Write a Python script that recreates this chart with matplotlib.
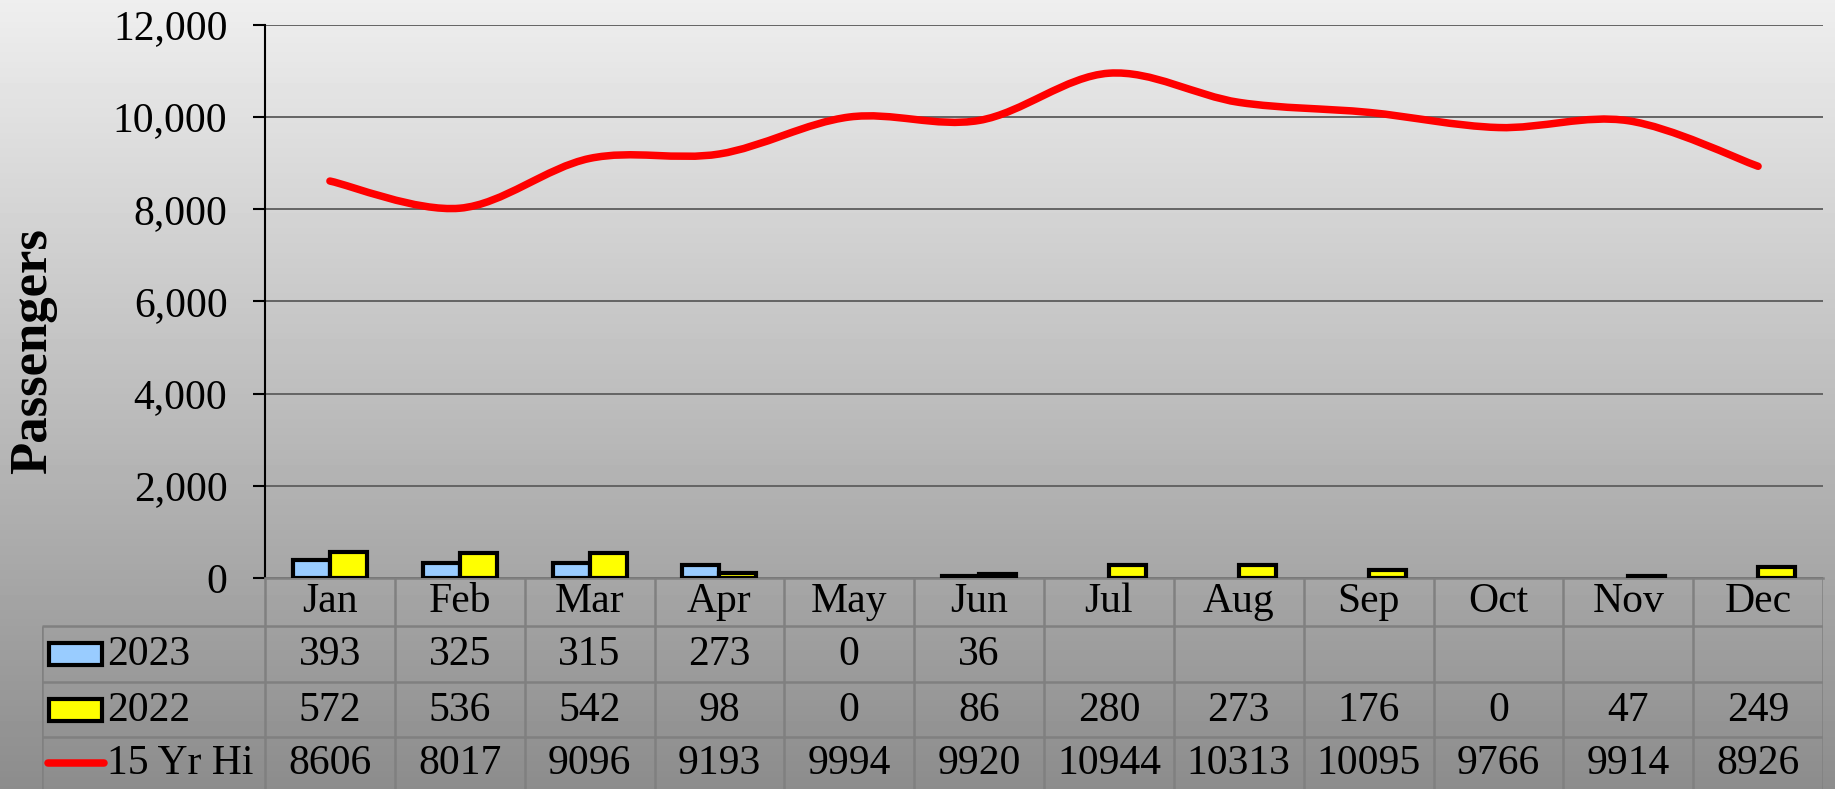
import numpy as np
import matplotlib

matplotlib.use("Agg")
import matplotlib.pyplot as plt
from matplotlib.path import Path
from matplotlib.patches import PathPatch, Rectangle

plt.rcParams["font.family"] = ["Liberation Serif", "DejaVu Serif"]

# ---- data ----
MONTHS = ["Jan", "Feb", "Mar", "Apr", "May", "Jun", "Jul", "Aug", "Sep", "Oct", "Nov", "Dec"]
Y2023 = [393, 325, 315, 273, 0, 36, None, None, None, None, None, None]
Y2022 = [572, 536, 542, 98, 0, 86, 280, 273, 176, 0, 47, 249]
HI15 = [8606, 8017, 9096, 9193, 9994, 9920, 10944, 10313, 10095, 9766, 9914, 8926]
SERIES = ["2023", "2022", "15 Yr Hi"]

BLUE, YELLOW, RED = "#99ccff", "#ffff00", "#ff0000"
GRID, TBL = "#646464", "#808080"
FS = 30

W, H = 1835, 789
X0, X1, Y_TOP, Y_ZERO = 265, 1823, 24.5, 578
T_LEFT = 42
ROW_EDGES = [0, 48, 104, 159, 211]  # px from top of the table block


def smooth_path(x, y):
    """Excel-style smoothed line: Catmull-Rom segments as cubic Beziers."""
    p = np.column_stack([x, y]).astype(float)
    pts = [p[0]]
    codes = [Path.MOVETO]
    for i in range(len(p) - 1):
        p0 = p[i - 1] if i > 0 else p[i]
        p3 = p[i + 2] if i + 2 < len(p) else p[i + 1]
        c1 = p[i] + (p[i + 1] - p0) / 6
        c2 = p[i + 1] - (p3 - p[i]) / 6
        pts += [c1, c2, p[i + 1]]
        codes += [Path.CURVE4] * 3
    return Path(np.array(pts), codes)


def main():
    fig = plt.figure(figsize=(W / 100, H / 100), dpi=100)

    # gradient background
    bg = fig.add_axes([0, 0, 1, 1], zorder=-10)
    grad = np.linspace(0.935, 0.55, 256).reshape(-1, 1)
    bg.imshow(grad, cmap="gray", vmin=0, vmax=1, aspect="auto", extent=[0, 1, 0, 1])
    bg.axis("off")

    ax = fig.add_axes([X0 / W, 1 - Y_ZERO / H, (X1 - X0) / W, (Y_ZERO - Y_TOP) / H])
    ax.patch.set_alpha(0)
    x = np.arange(len(MONTHS))
    bw = 0.285
    v23 = np.array([np.nan if v is None else v for v in Y2023], float)
    v22 = np.array(Y2022, float)
    ax.bar(x - bw / 2, v23, bw, color=BLUE, edgecolor="black",
           linewidth=[0 if v == 0 else 3.0 for v in v23], zorder=3)
    ax.bar(x + bw / 2, v22, bw, color=YELLOW, edgecolor="black",
           linewidth=[0 if v == 0 else 3.0 for v in v22], zorder=3)
    ax.add_patch(PathPatch(smooth_path(x, HI15), facecolor="none", edgecolor=RED,
                           lw=5.4, capstyle="round", joinstyle="round", zorder=4))

    ax.set_xlim(-0.5, 11.5)
    ax.set_ylim(0, 12000)
    ax.set_yticks(np.arange(0, 12001, 2000))
    ax.set_yticklabels([f"{v:,}" for v in range(0, 12001, 2000)], fontsize=FS)
    ax.tick_params(axis="y", length=9, width=1.5, pad=18, direction="out")
    ax.set_xticks([])
    ax.grid(axis="y", color=GRID, lw=1.4, zorder=0)
    ax.set_axisbelow(True)
    for s in ("top", "right"):
        ax.spines[s].set_visible(False)
    ax.spines["left"].set_linewidth(1.5)
    ax.spines["bottom"].set_color(TBL)
    ax.spines["bottom"].set_linewidth(1.8)

    fig.text(33 / W, 1 - 351 / H, "Passengers", rotation=90, ha="center", va="center",
             fontsize=38, fontweight="bold")

    # data table under the axis
    cw = (X1 - X0) / 12
    tx0 = -0.5 - (X0 - T_LEFT) / cw
    ta = fig.add_axes([T_LEFT / W, 0, (X1 - T_LEFT) / W, (H - Y_ZERO) / H])
    ta.set_xlim(tx0, 11.5)
    ta.set_ylim(ROW_EDGES[-1], 0)
    ta.axis("off")
    lk = dict(color=TBL, lw=1.8, solid_capstyle="butt")
    for xb in np.arange(-0.5, 12.0, 1.0):
        ta.plot([xb, xb], [0, ROW_EDGES[-1]], **lk)
    ta.plot([tx0, tx0], [ROW_EDGES[1], ROW_EDGES[-1]], **lk)
    for yb in ROW_EDGES[1:-1]:
        ta.plot([tx0, 11.5], [yb, yb], **lk)

    mid = [(ROW_EDGES[i] + ROW_EDGES[i + 1]) / 2 for i in range(4)]
    for i, m in enumerate(MONTHS):
        ta.text(i, mid[0], m, ha="center", va="center", fontsize=FS)
    rows = [Y2023, Y2022, HI15]
    for r, vals in enumerate(rows):
        for i, v in enumerate(vals):
            if v is not None:
                ta.text(i, mid[r + 1] + 1, str(v), ha="center", va="center", fontsize=FS)

    # legend keys in the row-label column
    px = 1 / cw
    kx0, kx1 = tx0 + 7 * px, tx0 + 60 * px
    for r, c in ((0, BLUE), (1, YELLOW)):
        ta.add_patch(Rectangle((kx0, mid[r + 1] - 11), kx1 - kx0, 22, facecolor=c,
                               edgecolor="black", lw=3.0))
    ta.plot([tx0 + 6 * px, tx0 + 62 * px], [mid[3], mid[3]], color=RED, lw=5.4,
            solid_capstyle="round")
    for r, name in enumerate(SERIES):
        ta.text(tx0 + 65 * px, mid[r + 1] + 1, name, ha="left", va="center", fontsize=FS)

    fig.savefig("out.png", dpi=100)


if __name__ == "__main__":
    main()
